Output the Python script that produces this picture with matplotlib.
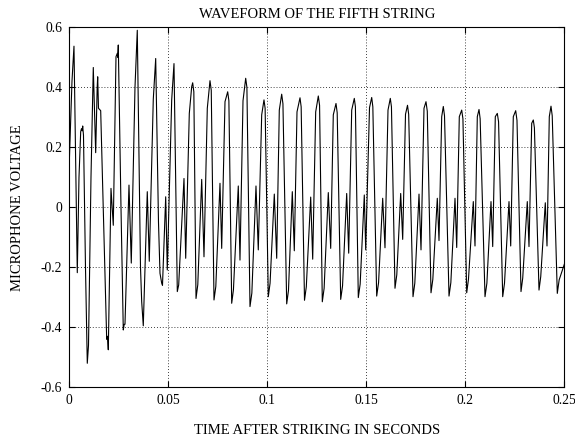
import matplotlib.pyplot as plt
import numpy as np

plt.rcParams['font.family'] = ['Liberation Serif', 'DejaVu Serif']
plt.rcParams['axes.unicode_minus'] = False

# Attack portion (first ~62 ms), breakpoints: time in ms, voltage
attack_t = [0.00, 1.36, 2.37, 3.13, 4.04, 4.90, 5.76, 6.16, 6.52, 6.77, 7.17, 8.18,
            9.09, 9.70, 10.96, 12.12, 13.33, 14.09, 14.34, 14.75, 15.15, 15.86, 17.53,
            18.89, 19.29, 19.70, 21.06, 22.22, 23.08, 23.59, 24.24, 24.44, 24.75, 26.11,
            27.27, 27.73, 28.13, 30.15, 31.31, 33.18, 34.34, 35.96, 36.57, 37.37, 39.39,
            40.40, 42.42, 43.64, 45.05, 45.81, 46.67, 47.07, 48.69, 49.49, 51.72, 52.88,
            54.55, 55.25, 57.93, 58.79, 60.61, 61.82]
attack_v = [0.15, 0.42, 0.537, 0.20, -0.218, 0.10, 0.252, 0.262, 0.255, 0.271, 0.24, -0.20,
            -0.52, -0.46, 0.10, 0.466, 0.182, 0.40, 0.435, 0.33, 0.327, 0.322, -0.10,
            -0.44, -0.43, -0.475, 0.063, -0.06, 0.30, 0.502, 0.513, 0.50, 0.541, 0.00,
            -0.409, -0.39, -0.39, 0.074, -0.186, 0.40, 0.59, -0.20, -0.315, -0.395, 0.052,
            -0.18, 0.36, 0.496, -0.05, -0.22, -0.253, -0.26, 0.035, -0.209, 0.358, 0.479,
            -0.281, -0.259, 0.096, -0.17, 0.313, 0.402]

# Steady part: one entry per cycle for each feature of the waveform
peak_t = [62.32, 71.06, 80.00, 89.09, 98.33, 107.27, 116.52, 125.76, 134.70, 143.94, 152.73,
          162.12, 170.81, 180.15, 188.89, 198.18, 206.92, 216.16, 225.45, 234.34, 243.28]
peak_v = [0.415, 0.422, 0.385, 0.430, 0.358, 0.377, 0.365, 0.371, 0.346, 0.363, 0.366,
          0.363, 0.340, 0.352, 0.336, 0.324, 0.326, 0.313, 0.322, 0.291, 0.337]

shoulder_t = [62.9, 71.7, 80.6, 89.7, 98.9, 107.9, 117.1, 126.4, 135.3, 144.5, 153.3,
              162.7, 171.4, 180.8, 189.5, 198.8, 207.5, 216.8, 226.1, 234.9, 243.9]
shoulder_v = [0.385, 0.39, 0.355, 0.40, 0.33, 0.345, 0.335, 0.34, 0.315, 0.335, 0.335,
              0.335, 0.31, 0.32, 0.305, 0.295, 0.295, 0.285, 0.29, 0.265, 0.305]

trough_t = [64.00, 73.08, 82.02, 91.26, 100.51, 109.80, 118.79, 127.78, 137.07, 145.96, 155.25,
            164.49, 173.59, 182.68, 191.77, 200.71, 209.95, 218.89, 228.13, 237.22, 246.46]
trough_v = [-0.304, -0.309, -0.320, -0.331, -0.298, -0.322, -0.310, -0.315, -0.307, -0.301, -0.296,
            -0.270, -0.298, -0.285, -0.296, -0.285, -0.298, -0.298, -0.281, -0.276, -0.287]

kink_t = [64.9, 74.0, 82.9, 92.2, 101.4, 110.7, 119.7, 128.7, 138.0, 146.9, 156.2,
          165.4, 174.5, 183.6, 192.7, 201.6, 210.9, 219.8, 229.0, 238.1, 247.4]
kink_v = [-0.258, -0.264, -0.275, -0.286, -0.253, -0.277, -0.265, -0.27, -0.262, -0.256, -0.251,
          -0.225, -0.253, -0.24, -0.251, -0.24, -0.253, -0.253, -0.236, -0.231, -0.242]

bump_t = [66.87, 76.11, 85.35, 94.29, 103.54, 112.63, 121.92, 130.81, 140.10, 148.99,
          158.28, 167.37, 176.62, 185.86, 194.80, 204.04, 212.98, 222.07, 231.31, 240.40]
bump_v = [0.093, 0.080, 0.071, 0.071, 0.044, 0.052, 0.034, 0.049, 0.046, 0.041,
          0.030, 0.046, 0.044, 0.030, 0.030, 0.019, 0.019, 0.019, 0.019, 0.015]

dip_t = [68.03, 76.97, 86.21, 95.45, 104.75, 113.64, 122.93, 132.02, 141.11, 149.70,
         159.44, 168.38, 177.63, 186.72, 195.66, 204.90, 213.84, 222.93, 232.17, 241.26]
dip_v = [-0.165, -0.137, -0.176, -0.142, -0.170, -0.145, -0.173, -0.137, -0.153, -0.142,
         -0.135, -0.107, -0.142, -0.111, -0.134, -0.129, -0.131, -0.129, -0.131, -0.129]

rise_t = [69.70, 78.64, 87.73, 97.17, 106.06, 115.00, 124.44, 133.33, 142.63, 151.62,
          160.96, 169.80, 179.14, 188.08, 196.97, 206.06, 215.15, 224.24, 233.54, 242.42]
rise_v = [0.330, 0.352, 0.355, 0.308, 0.324, 0.318, 0.318, 0.308, 0.324, 0.332,
          0.324, 0.310, 0.330, 0.302, 0.302, 0.302, 0.302, 0.302, 0.280, 0.302]

end_t = [250.0]
end_v = [-0.19]

t_ms = np.concatenate([attack_t, peak_t, shoulder_t, trough_t, kink_t, bump_t, dip_t, rise_t, end_t])
volt = np.concatenate([attack_v, peak_v, shoulder_v, trough_v, kink_v, bump_v, dip_v, rise_v, end_v])
order = np.argsort(t_ms, kind='stable')
t_s = t_ms[order] / 1000.0
volt = volt[order]

fig = plt.figure(figsize=(5.75, 4.38), dpi=100)
ax = fig.add_axes([0.1205, 0.1158, 0.8609, 0.8219])
ax.plot(t_s, volt, color='black', linewidth=0.8)

ax.set_xlim(0, 0.25)
ax.set_ylim(-0.6, 0.6)
ax.set_xticks([0, 0.05, 0.1, 0.15, 0.2, 0.25])
ax.set_xticklabels(['0', '0.05', '0.1', '0.15', '0.2', '0.25'])
ax.set_yticks([-0.6, -0.4, -0.2, 0, 0.2, 0.4, 0.6])
ax.set_yticklabels(['-0.6', '-0.4', '-0.2', '0', '0.2', '0.4', '0.6'])
ax.tick_params(direction='in', top=True, right=True, length=4, width=0.8,
               labelsize=9.8, pad=5)
ax.grid(True, color='black', linestyle=(0, (1, 2.5)), linewidth=0.6)
for s in ax.spines.values():
    s.set_linewidth(0.8)

ax.set_title('WAVEFORM OF THE FIFTH STRING', fontsize=10.5, pad=7)
ax.set_xlabel('TIME AFTER STRIKING IN SECONDS', fontsize=10.5, labelpad=12)
ax.set_ylabel('MICROPHONE VOLTAGE', fontsize=10.5, labelpad=12)

plt.savefig('out.png', dpi=100)
